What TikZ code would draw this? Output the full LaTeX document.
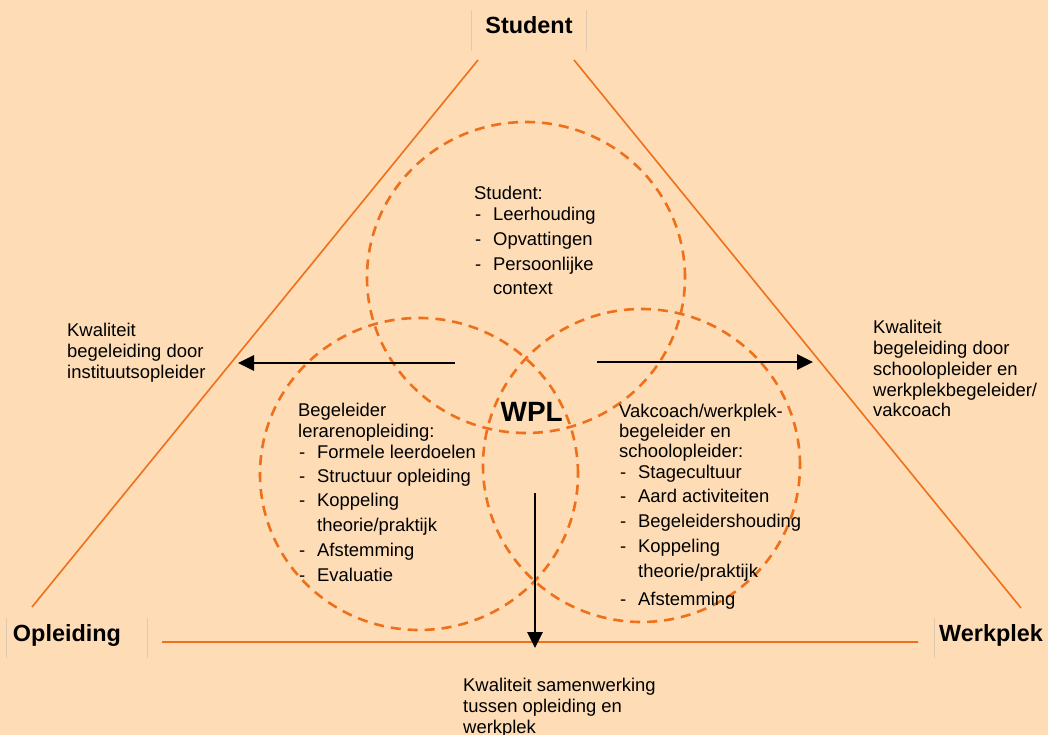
\documentclass[tikz,border=0pt]{standalone}
\usepackage{fontspec}
\setmainfont{Liberation Sans}
\usetikzlibrary{shapes,shapes.geometric,arrows.meta,calc,positioning}
\definecolor{perzik}{RGB}{253,220,182}
\definecolor{oranje}{RGB}{238,112,26}
\definecolor{kaderlijn}{RGB}{222,202,178}
\tikzset{kring/.style={draw=oranje, ellipse, line width=2.6bp, dash pattern=on 10bp off 7bp, inner sep=0pt}}
\tikzstyle{tekst}=[font=\fontsize{18.5}{21}\selectfont, align=left, inner sep=0pt, anchor=north west]
\tikzstyle{hoek}=[font=\fontsize{23.5}{26}\selectfont\bfseries, minimum height=40bp, inner xsep=5bp, inner ysep=0pt, text height=12bp, text depth=5bp]
\tikzstyle{kader}=[draw=kaderlijn, line width=0.8bp]
\tikzstyle{zijde}=[draw=oranje, line width=1.6bp]
\tikzstyle{pijl}=[->, line width=2.8bp]
\newcommand{\streep}{\makebox[19bp][l]{\hspace{1bp}-}}

\begin{document}
\begin{tikzpicture}[x=1bp, y=-1bp, >={Triangle[length=16bp,width=15bp]}]
\useasboundingbox[fill=perzik] (0,0) rectangle (1048,735);
% hoekpunten van de driehoek
\node[hoek, minimum width=114bp] (stu) at (529,30.5) {Student};
\node[hoek, text width=128bp, inner xsep=6bp] (opl) at (77,638) {Opleiding};
\node[hoek, anchor=west] (wrk) at (934,638) {Werkplek};
\draw[kader] (stu.north west) -- (stu.south west) (stu.north east) -- (stu.south east);
\draw[kader] (opl.north west) -- (opl.south west) (opl.north east) -- (opl.south east);
\draw[kader] (wrk.north west) -- (wrk.south west);
% zijden
\coordinate (Sl) at (478,60);
\coordinate (Sr) at (574,60);
\coordinate (Ol) at (32,607);
\coordinate (Wr) at (1021,608);
\coordinate (Ob) at (162,642);
\coordinate (Wb) at (918,642);
\draw[zijde] (Sl) -- (Ol) (Sr) -- (Wr) (Ob) -- (Wb);
% kringen
\node[kring, minimum width=318bp, minimum height=311bp] (kS) at (526,277.5) {};
\node[kring, minimum width=318bp, minimum height=312bp] (kO) at (419,474) {};
\node[kring, minimum width=317bp, minimum height=313bp] (kW) at (641.5,465.5) {};
\node[font=\fontsize{28}{32}\selectfont\bfseries, inner sep=0pt, anchor=base west] (wpl) at (500.5,421) {WPL};
\node[tekst] (tS) at (474,185.7) {Student:\\
\streep Leerhouding\\[4bp]
\streep Opvattingen\\[4bp]
\streep Persoonlijke\\[4bp]
\hspace*{19bp}context};
\node[tekst] (tO) at (298,402.7) {Begeleider\\
lerarenopleiding:\\
\streep Formele leerdoelen\\[3bp]
\streep Structuur opleiding\\[4bp]
\streep Koppeling\\[4bp]
\hspace*{19bp}theorie/praktijk\\[4bp]
\streep Afstemming\\[4bp]
\streep Evaluatie};
\node[tekst] (tW) at (619,403.7) {Vakcoach/werkplek-\\[-1bp]
begeleider en\\[-1bp]
schoolopleider:\\
\streep Stagecultuur\\[4bp]
\streep Aard activiteiten\\[4bp]
\streep Begeleidershouding\\[4bp]
\streep Koppeling\\[4bp]
\hspace*{19bp}theorie/praktijk\\[7bp]
\streep Afstemming};
% kwaliteit
\node[tekst] (kwOpl) at (67,322.7) {Kwaliteit\\begeleiding door\\instituutsopleider};
\node[tekst] (kwWrk) at (873,319.7) {Kwaliteit\\begeleiding door\\schoolopleider en\\werkplekbegeleider/\\vakcoach};
\node[tekst] (kwSam) at (463,677.7) {Kwaliteit samenwerking\\tussen opleiding en\\werkplek};
\coordinate (pO1) at (455,363);
\coordinate (pO2) at (238,363);
\coordinate (pW1) at (597,362);
\coordinate (pW2) at (813,362);
\coordinate (pS1) at (535,493);
\coordinate (pS2) at (535,648);
\draw[pijl] (pO1) -- (pO2);
\draw[pijl] (pW1) -- (pW2);
\draw[pijl] (pS1) -- (pS2);
\end{tikzpicture}
\end{document}
